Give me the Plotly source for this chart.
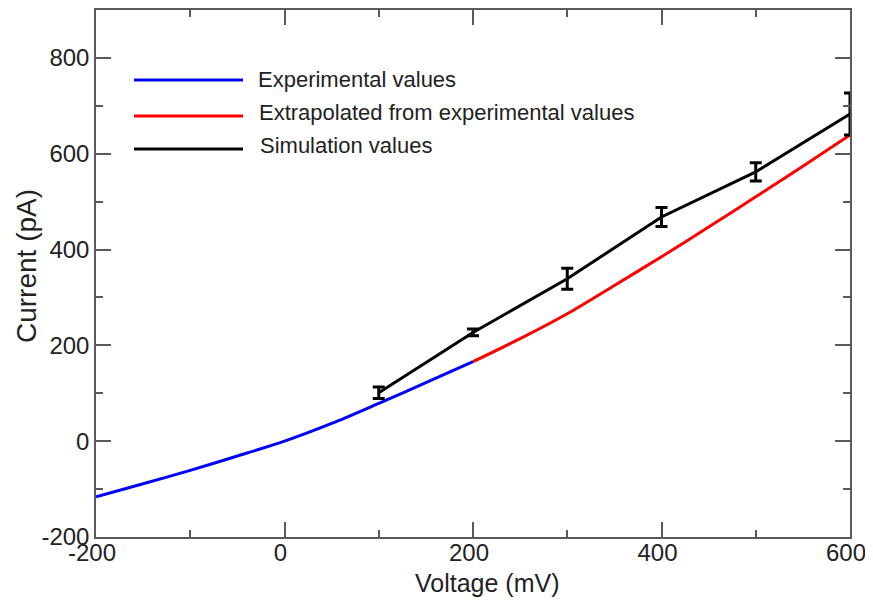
import plotly.graph_objects as go

# Data
voltage_exp = [-200, -150, -100, -50, 0, 50, 100, 150, 200]
current_exp = [-116, -89, -61, -31, 0, 37, 79, 122, 166]

voltage_extra = [200, 250, 300, 350, 400, 450, 500, 550, 600]
current_extra = [166, 214, 266, 325, 385, 447, 510, 574, 639]

voltage_sim = [100, 200, 300, 400, 500, 600]
current_sim = [101, 227, 339, 468, 562, 683]
error_sim = [12, 7, 22, 20, 19, 44]

x_ticks = [-200, 0, 200, 400, 600]
x_ticktext = ["-200", "0", "200", "400", "600"]
x_minor = [-100, 100, 300, 500]
y_ticks = [-200, 0, 200, 400, 600, 800]
y_ticktext = ["-200", "0", "200", "400", "600", "800"]
y_minor = [-100, 100, 300, 500, 700]

legend_names = ["Experimental values", "Extrapolated from experimental values", "Simulation values"]
legend_colors = ["#0000ff", "#ff0000", "#000000"]

FONT = "Liberation Sans, Arial, sans-serif"
AX = "#5a5a5a"
OFF = 8  # page offset of the figure (default body margin)
W, H = 873 - OFF, 604 - OFF
ML, MR, MT, MB = 96 - OFF, 23, 10 - OFF, 67
PW, PH = W - ML - MR, H - MT - MB


def px_to_paper(px, py):
    # px, py are page pixel coordinates
    return (px - OFF - ML) / PW, (H - MB - (py - OFF)) / PH


fig = go.Figure()
fig.add_trace(go.Scatter(x=voltage_exp, y=current_exp, mode="lines",
                         line=dict(color=legend_colors[0], width=3, shape="spline", smoothing=0.8),
                         name=legend_names[0], showlegend=False))
fig.add_trace(go.Scatter(x=voltage_extra, y=current_extra, mode="lines",
                         line=dict(color=legend_colors[1], width=3, shape="spline", smoothing=0.8),
                         name=legend_names[1], showlegend=False))
fig.add_trace(go.Scatter(x=voltage_sim, y=current_sim, mode="lines",
                         line=dict(color=legend_colors[2], width=3),
                         error_y=dict(type="data", array=error_sim, visible=True,
                                      color="#000000", thickness=3, width=6),
                         name=legend_names[2], showlegend=False))

axis_common = dict(
    ticks="inside", ticklen=15, tickwidth=1.5, tickcolor=AX,
    showline=True, linecolor=AX, linewidth=1.5, mirror="allticks",
    showgrid=False, zeroline=False, automargin=False,
    tickfont=dict(family=FONT, size=24, color="#222222"),
)

fig.update_xaxes(range=[-200, 600], tickmode="array", tickvals=x_ticks, ticktext=x_ticktext,
                 ticklabelstandoff=-7, ticklabelshift=-4,
                 minor=dict(tickmode="array", tickvals=x_minor, ticks="inside", ticklen=7,
                            tickwidth=1.5, tickcolor=AX, showgrid=False),
                 **axis_common)
fig.update_yaxes(range=[-200, 900], tickmode="array", tickvals=y_ticks, ticktext=y_ticktext,
                 minor=dict(tickmode="array", tickvals=y_minor, ticks="inside", ticklen=7,
                            tickwidth=1.5, tickcolor=AX, showgrid=False),
                 **axis_common)

# Custom legend (long line swatches like the reference)
legend_rows = [(80, 256), (116, 257), (149, 258)]
text_y = [79, 112, 145]
shapes = []
annotations = []
for i, name in enumerate(legend_names):
    ly, tx = legend_rows[i]
    x0, y0 = px_to_paper(134, ly)
    x1, _ = px_to_paper(243, ly)
    shapes.append(dict(type="line", xref="paper", yref="paper", x0=x0, x1=x1, y0=y0, y1=y0,
                       line=dict(color=legend_colors[i], width=3)))
    ax_, ay_ = px_to_paper(tx, text_y[i])
    annotations.append(dict(text=name, xref="paper", yref="paper", x=ax_, y=ay_,
                            xanchor="left", yanchor="middle", showarrow=False,
                            font=dict(family=FONT, size=22, color="#222222")))

# Axis titles
tx, ty = px_to_paper(487, 583)
annotations.append(dict(text="Voltage (mV)", xref="paper", yref="paper", x=tx, y=ty,
                        xanchor="center", yanchor="middle", showarrow=False,
                        font=dict(family=FONT, size=25, color="#222222")))
tx, ty = px_to_paper(26, 266)
annotations.append(dict(text="Current (pA)", xref="paper", yref="paper", x=tx, y=ty,
                        xanchor="center", yanchor="middle", showarrow=False, textangle=-90,
                        font=dict(family=FONT, size=28, color="#222222")))

fig.update_layout(
    width=W, height=H,
    margin=dict(l=ML, r=MR, t=MT, b=MB, autoexpand=False),
    paper_bgcolor="white", plot_bgcolor="white",
    shapes=shapes, annotations=annotations,
    showlegend=False,
)

fig.write_html("out.html")
